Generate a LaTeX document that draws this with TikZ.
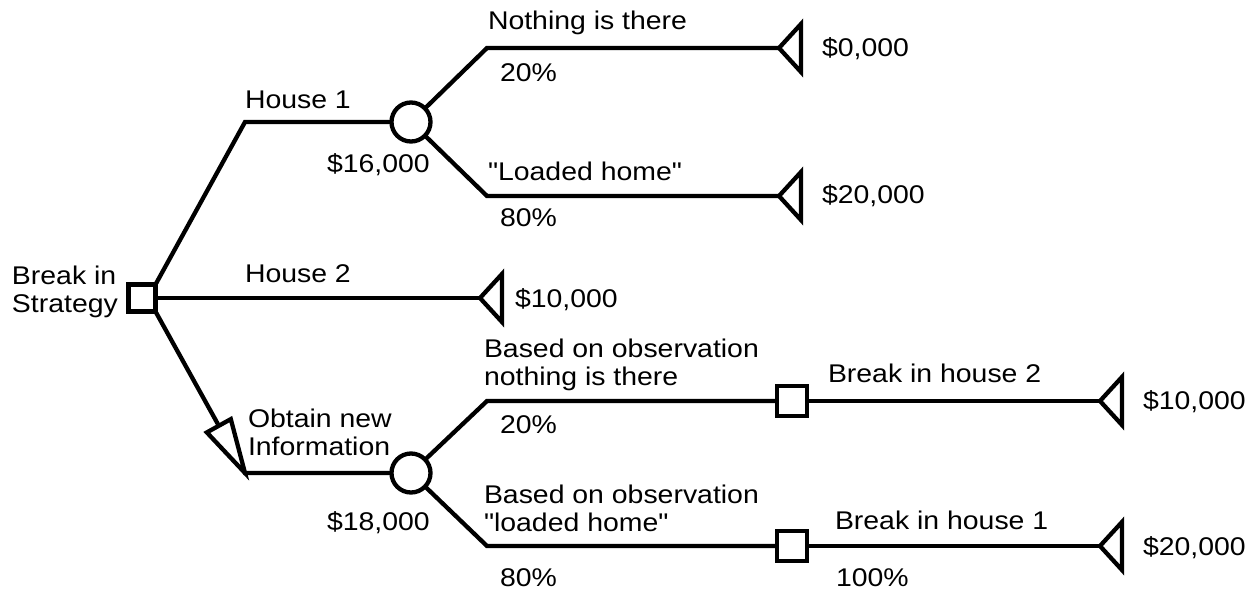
\documentclass[tikz,border=0pt]{standalone}
\usepackage{fontspec}
\setmainfont{Liberation Sans}[FakeStretch=1.11,Ligatures=TeXOff]
\usetikzlibrary{calc}
\begin{document}
\begin{tikzpicture}[x=1pt,y=-1pt,line width=4.3pt,
  every node/.style={inner sep=0pt,outer sep=0pt},
  lbl/.style={anchor=base west,font=\fontsize{25.6}{27.5}\selectfont,align=left},
  decision/.style={draw,fill=white,rectangle,minimum size=27pt,line join=miter},
  chance/.style={draw,fill=white,circle,minimum size=39pt},
  terminal/.style={draw,fill=white,line join=miter},
  branch/.style={draw,line join=miter}]
\useasboundingbox (0,0) rectangle (1259,590);

% decision and chance nodes
\node[decision] (d0) at (142,298) {};
\node[chance] (c1) at (411,122) {};
\node[chance] (c2) at (411,473) {};
\node[decision,minimum size=30pt] (d1) at (792,401) {};
\node[decision,minimum size=30pt] (d2) at (792,546) {};

% bends and payoff tips
\coordinate (h1) at (245,122);
\coordinate (a1) at (487,48);  \coordinate (t1) at (779,48);
\coordinate (a2) at (487,196); \coordinate (t2) at (779,196);
\coordinate (t3) at (480,298);
\coordinate (o1) at (245,473);
\coordinate (b1) at (487,401); \coordinate (t4) at (1100,401);
\coordinate (b2) at (487,546); \coordinate (t5) at (1100,546);

% branches
\path[branch] (d0.north east) -- (h1) -- (c1);
\path[branch] (c1) -- (a1) -- (t1);
\path[branch] (c1) -- (a2) -- (t2);
\path[branch] (d0) -- (t3);
\path[branch] (d0.south east) -- (o1) -- (c2);
\path[branch] (c2) -- (b1) -- (d1);
\path[branch] (d1) -- (t4);
\path[branch] (c2) -- (b2) -- (d2);
\path[branch] (d2) -- (t5);

% arrowhead on the information branch
\coordinate (ab) at ($(o1)!54pt!(d0.south east)$);
\draw[terminal] (o1) -- ($(ab)!13.7pt!90:(o1)$) -- ($(ab)!13.7pt!-90:(o1)$) -- cycle;

% payoff triangles
\foreach \t in {t1,t2,t3,t4,t5}
  \draw[terminal] (\t) -- ++(22,-24) -- ++(0,48) -- cycle;

% labels (multi-line labels are anchored at their last baseline)
\node[lbl] (l1) at (488,29) {Nothing is there};
\node[lbl] (l2) at (500,81) {20\%};
\node[lbl] (l3) at (245,108) {House 1};
\node[lbl] (l4) at (327,172) {\$16,000};
\node[lbl] (l5) at (488,180) {"Loaded home"};
\node[lbl] (l6) at (500,226) {80\%};
\node[lbl] (l7) at (822,56) {\$0,000};
\node[lbl] (l8) at (822,203) {\$20,000};
\node[lbl] (l9) at (12,312) {Break in\\Strategy};
\node[lbl] (l10) at (245,282) {House 2};
\node[lbl] (l11) at (515,307) {\$10,000};
\node[lbl] (l12) at (484,385) {Based on observation\\nothing is there};
\node[lbl] (l13) at (500,433) {20\%};
\node[lbl] (l14) at (248,455) {Obtain new\\Information};
\node[lbl] (l15) at (327,530) {\$18,000};
\node[lbl] (l16) at (484,531) {Based on observation\\"loaded home"};
\node[lbl] (l17) at (500,586) {80\%};
\node[lbl] (l18) at (828,382) {Break in house 2};
\node[lbl] (l19) at (1143,409) {\$10,000};
\node[lbl] (l20) at (835,529) {Break in house 1};
\node[lbl] (l21) at (1143,555) {\$20,000};
\node[lbl] (l22) at (836,586) {100\%};
\end{tikzpicture}
\end{document}
